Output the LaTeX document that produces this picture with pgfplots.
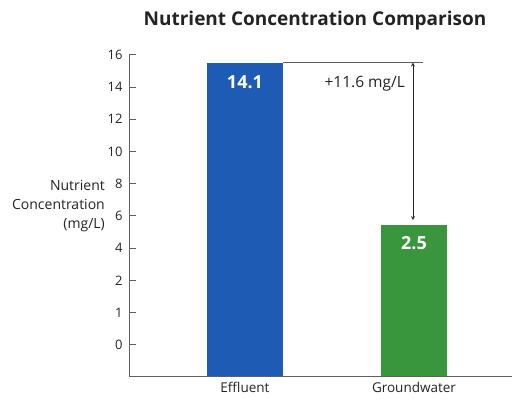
\documentclass[border=0pt]{standalone}
\usepackage{pgfplots}
\pgfplotsset{compat=1.18}
\usepackage{fontspec}
\setmainfont{Open Sans}
\definecolor{barblue}{RGB}{30,91,181}
\definecolor{bargreen}{RGB}{57,150,60}
\definecolor{axisgray}{RGB}{95,95,95}
\definecolor{textdark}{RGB}{35,35,35}
\begin{document}
\begin{tikzpicture}
\useasboundingbox (0,0) rectangle (527pt,-403pt);
\node[font=\fontsize{19}{22}\selectfont\bfseries, text=textdark] at (315pt,-21pt) {Nutrient Concentration Comparison};
\begin{axis}[
  at={(129pt,-376pt)}, anchor=south west,
  scale only axis, width=383pt, height=321.5pt,
  xmin=-0.686, xmax=1.58, ymin=0, ymax=9.98,
  axis lines=left,
  axis line style={axisgray, line width=0.8pt, -},
  ytick={0.97,1.97,2.97,3.97,4.97,5.97,6.97,7.97,8.97,9.97},
  yticklabels={0,1,2,4,6,8,10,12,14,16},
  xtick={0,1}, xticklabels={Effluent,Groundwater},
  tick align=inside, major tick length=7pt,
  tick style={axisgray, line width=0.8pt},
  xtick style={draw=none},
  ticklabel style={text=textdark},
  yticklabel style={font=\fontsize{13}{15}\selectfont, xshift=-3pt},
  xticklabel style={font=\fontsize{13.5}{16}\selectfont, yshift=-3pt},
  /pgf/number format/assume math mode=true,
  clip=false,
]
\addplot[ybar, bar width=0.45, bar shift=0pt, fill=barblue, draw=none] coordinates {(0,9.73)};
\addplot[ybar, bar width=0.39, bar shift=0pt, fill=bargreen, draw=none] coordinates {(1,4.69)};
\draw[axisgray, line width=0.8pt] (axis cs:0.225,9.73) -- (axis cs:1.053,9.73);
\draw[<->, >=stealth, line width=0.8pt, black!85] (axis cs:0.994,9.73) -- (axis cs:0.994,4.84);
\node[anchor=east, inner sep=0pt, font=\fontsize{15.5}{18}\selectfont, text=textdark] at (axis cs:0.947,9.07) {+11.6 mg/L};
\node[font=\fontsize{18}{20}\selectfont\bfseries, text=white] at (axis cs:0,9.11) {14.1};
\node[font=\fontsize{18}{20}\selectfont\bfseries, text=white] at (axis cs:1,4.13) {2.5};
\node[align=right, anchor=east, inner sep=0pt, font=\fontsize{14}{19}\selectfont, text=textdark] at (axis cs:-0.828,5.28) {Nutrient\\Concentration\\(mg/L)};
\end{axis}
\end{tikzpicture}
\end{document}
